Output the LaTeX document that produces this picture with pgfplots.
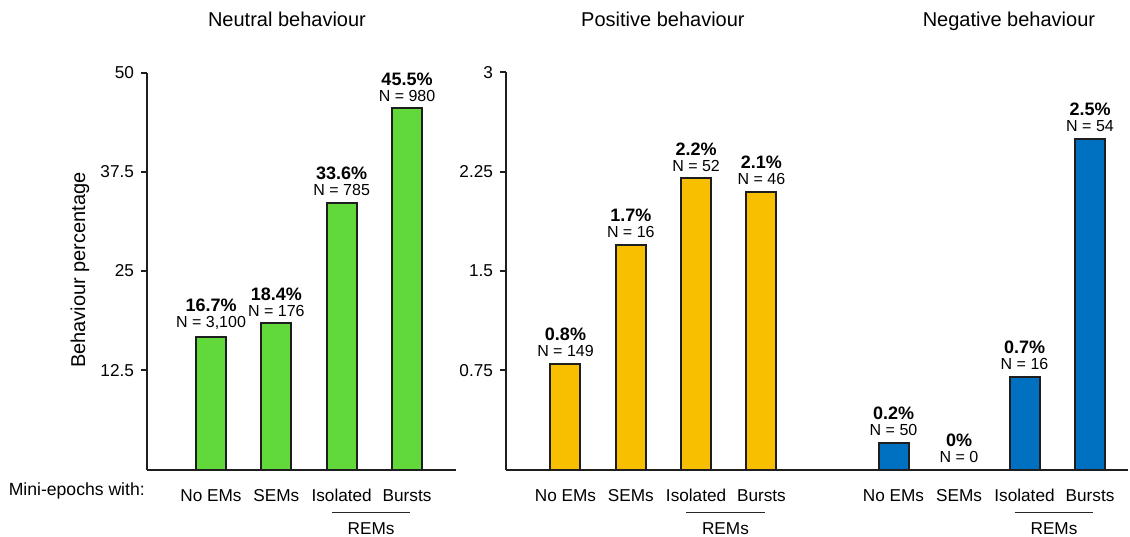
\documentclass[border=0pt]{standalone}
\usepackage{fontspec}
\setmainfont{Liberation Sans}
\usepackage{pgfplots}
\pgfplotsset{compat=1.18}

\definecolor{neutralgreen}{RGB}{98,217,59}
\definecolor{posyellow}{RGB}{248,190,0}
\definecolor{negblue}{RGB}{0,112,192}
\definecolor{axisdark}{RGB}{30,30,30}

\pgfplotsset{
  panel/.style={
    scale only axis,
    height=198.5pt,
    axis x line=bottom, axis y line=left,
    axis line style={-, line width=1pt, draw=axisdark},
    ymin=0,
    xtick={0,1,2,3},
    xticklabels={No EMs,SEMs,Isolated,Bursts},
    major x tick style={draw=none},
    x tick label style={anchor=base, yshift=-12.75pt, font=\fontsize{8.6}{10}\selectfont},
    y tick label style={font=\fontsize{8.6}{10}\selectfont},
    major y tick style={line width=1pt, draw=axisdark},
    tick align=outside,
    major tick length=3pt,
    ybar, bar width=15pt,
    clip=false,
    point meta=explicit symbolic,
    nodes near coords={\pgfplotspointmeta},
    every node near coord/.append style={anchor=south, align=center, inner sep=0pt,
      yshift=3pt, font=\fontsize{8}{8}\selectfont, text=black},
    title style={anchor=base, font=\fontsize{10}{12}\selectfont},
    /pgf/number format/assume math mode=true,
  },
  bars/.style={draw=axisdark, line width=1pt, fill=#1},
}

\newcommand{\remsbrace}{%
  \draw[line width=0.7pt, draw=black!85] ([yshift=-21.5pt]axis cs:1.85,0) -- ([yshift=-21.5pt]axis cs:3.05,0);
  \node[anchor=base, font=\fontsize{8.6}{10}\selectfont] at ([yshift=-32.5pt]axis cs:2.45,0) {REMs};
}

\begin{document}
\begin{tikzpicture}
\useasboundingbox (0,0) rectangle (565pt,268pt);

% Neutral
\begin{axis}[panel,
  at={(73.5pt,33.25pt)}, anchor=south west,
  width=154.5pt, xmin=-0.98, xmax=3.75,
  ymax=50, ytick={12.5,25,37.5,50}, yticklabels={12.5,25,37.5,50},
  title={Neutral behaviour}, title style={at={(rel axis cs:0.453,1)}, yshift=17pt},
  ylabel={Behaviour percentage},
  ylabel style={at={(rel axis cs:-0.217,0.5025)}, anchor=center, font=\fontsize{10}{12}\selectfont},
]
\addplot[bars=neutralgreen] coordinates {
  (0,16.7) [{\textbf{\fontsize{9}{8}\selectfont 16.7\%}\\N = 3,100}]
  (1,18.4) [{\textbf{\fontsize{9}{8}\selectfont 18.4\%}\\N = 176}]
  (2,33.6) [{\textbf{\fontsize{9}{8}\selectfont 33.6\%}\\N = 785}]
  (3,45.5) [{\textbf{\fontsize{9}{8}\selectfont 45.5\%}\\N = 980}]
};
\remsbrace
\node[anchor=base east, inner sep=0pt, font=\fontsize{8.8}{10}\selectfont] at ([yshift=-12.75pt]rel axis cs:-0.006,0) {Mini-epochs with:};
\end{axis}

% Positive
\begin{axis}[panel,
  at={(253pt,33.25pt)}, anchor=south west,
  width=159.5pt, xmin=-0.911, xmax=3.974,
  ymax=3, ytick={0.75,1.5,2.25,3}, yticklabels={0.75,1.5,2.25,3},
  title={Positive behaviour}, title style={at={(rel axis cs:0.492,1)}, yshift=17pt},
]
\addplot[bars=posyellow] coordinates {
  (0,0.8) [{\textbf{\fontsize{9}{8}\selectfont 0.8\%}\\N = 149}]
  (1,1.7) [{\textbf{\fontsize{9}{8}\selectfont 1.7\%}\\N = 16}]
  (2,2.2) [{\textbf{\fontsize{9}{8}\selectfont 2.2\%}\\N = 52}]
  (3,2.1) [{\textbf{\fontsize{9}{8}\selectfont 2.1\%}\\N = 46}]
};
\remsbrace
\end{axis}

% Negative
\begin{axis}[panel,
  at={(412.5pt,33.25pt)}, anchor=south west,
  width=151.5pt, xmin=-1.046, xmax=3.58,
  axis y line=none,
  ymax=3,
  title={Negative behaviour}, title style={at={(rel axis cs:0.607,1)}, yshift=17pt},
]
\addplot[bars=negblue] coordinates {
  (0,0.2) [{\textbf{\fontsize{9}{8}\selectfont 0.2\%}\\N = 50}]
  (1,0)   [{\textbf{\fontsize{9}{8}\selectfont 0\%}\\N = 0}]
  (2,0.7) [{\textbf{\fontsize{9}{8}\selectfont 0.7\%}\\N = 16}]
  (3,2.5) [{\textbf{\fontsize{9}{8}\selectfont 2.5\%}\\N = 54}]
};
\remsbrace
\end{axis}
\end{tikzpicture}
\end{document}
